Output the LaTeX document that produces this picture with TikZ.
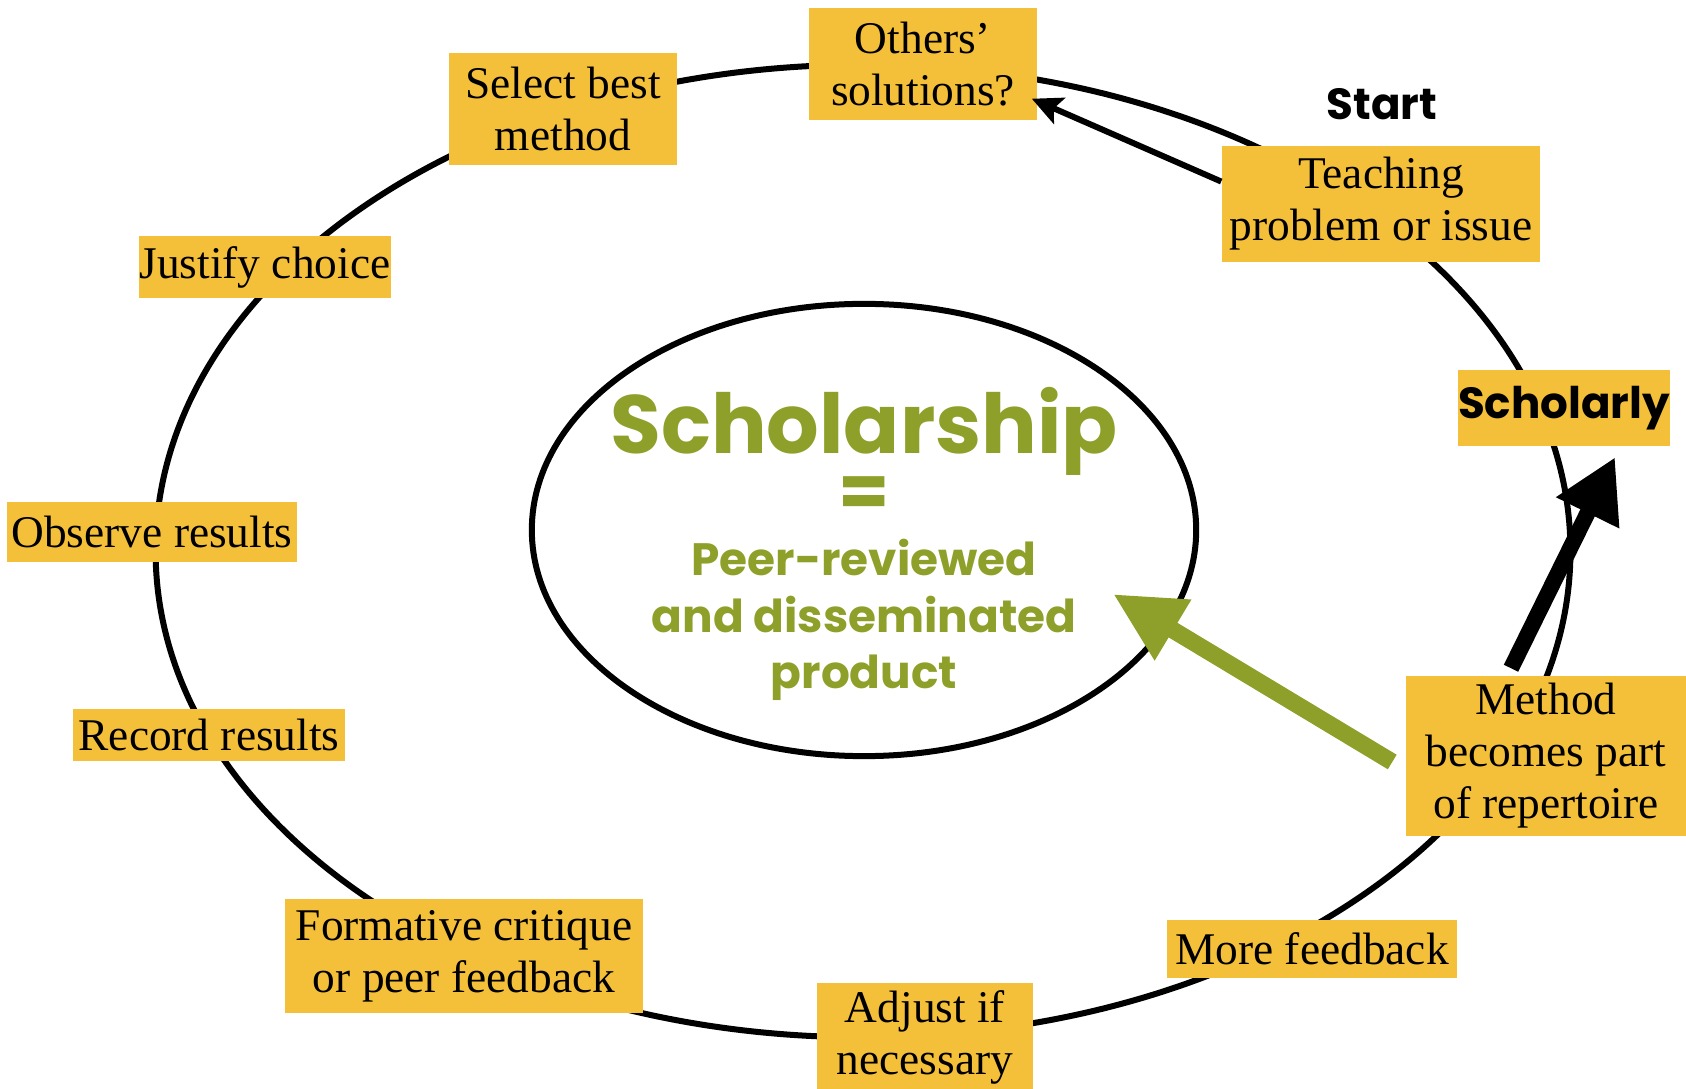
\documentclass[tikz,border=0pt]{standalone}
\usepackage{fontspec}
\setmainfont{Liberation Serif}
\newfontfamily\headfont{Poppins}
\usetikzlibrary{positioning, shapes.geometric, arrows.meta, calc}
\definecolor{boxyellow}{RGB}{244,192,58}
\definecolor{olivegreen}{RGB}{143,160,42}

\begin{document}
\begin{tikzpicture}[x=0.01cm, y=-0.01cm,
  stage/.style={fill=boxyellow, align=center, inner sep=0pt, font=\fontsize{12.9}{14.8}\selectfont},
  ring/.style={draw, ellipse, line width=0.06cm, inner sep=0pt},
  bold sans/.style={font=\headfont\bfseries\fontsize{12.4}{14}\selectfont}]
\useasboundingbox (0,0) rectangle (1686,1089);
\node[ring, minimum width=14.14cm, minimum height=9.72cm] (cycle) at (863,551) {};
\node[ring, minimum width=6.64cm, minimum height=4.52cm] (product) at (864,530) {};
\node[anchor=base, inner sep=0pt, text=olivegreen, font=\headfont\bfseries\fontsize{23.5}{28}\selectfont] (title) at (864,454) {Scholarship};
\node[inner sep=0pt, text=olivegreen, font=\headfont\bfseries\fontsize{21}{24}\selectfont] (equals) at (864,497) {=};
\node[anchor=base, align=center, text=olivegreen, font=\headfont\bfseries\fontsize{12.9}{16.2}\selectfont] (defn) at (864,689) {Peer-reviewed\\and disseminated\\product};
\node[stage, minimum width=2.27cm, minimum height=1.12cm] (others) at (923,64) {Others’\\solutions?};
\node[stage, minimum width=2.27cm, minimum height=1.12cm] (select) at (563,109) {Select best\\method};
\node[stage, minimum width=2.52cm, minimum height=0.62cm] (justify) at (265,267) {Justify choice};
\node[stage, minimum width=2.89cm, minimum height=0.59cm] (observe) at (152,532) {Observe results};
\node[stage, minimum width=2.71cm, minimum height=0.51cm] (record) at (209,735) {Record results};
\node[stage, minimum width=3.58cm, minimum height=1.13cm] (formative) at (464,956) {Formative critique\\or peer feedback};
\node[stage, minimum width=2.15cm, minimum height=1.08cm] (adjust) at (925,1037) {Adjust if\\necessary};
\node[stage, minimum width=2.89cm, minimum height=0.57cm] (morefb) at (1312,949) {More feedback};
\node[stage, minimum width=2.80cm, minimum height=1.60cm] (method) at (1546,756) {Method\\becomes part\\of repertoire};
\node[stage, bold sans, minimum width=2.10cm, minimum height=0.75cm] (scholarly) at (1564,408) {Scholarly};
\node[stage, minimum width=3.18cm, minimum height=1.15cm] (teach) at (1381,204) {Teaching\\problem or issue};
\node[bold sans] (start) at (1382,104) {Start};
\draw[line width=0.06cm, shorten >=-0.06cm, -{Stealth[length=0.3cm, width=0.28cm, inset=0.06cm]}] (teach.172) -- (others.-18);
\draw[line width=0.16cm, -{Triangle[length=0.62cm, width=0.66cm]}] ($(method.north)+(-35,-7)$) -- ($(scholarly.south)+(51,11)$);
\draw[olivegreen, line width=0.17cm, -{Triangle[length=0.7cm, width=0.66cm]}] ($(method.west)+(-13,6)$) -- ($(product.center)+(249,64)$);
\end{tikzpicture}
\end{document}
